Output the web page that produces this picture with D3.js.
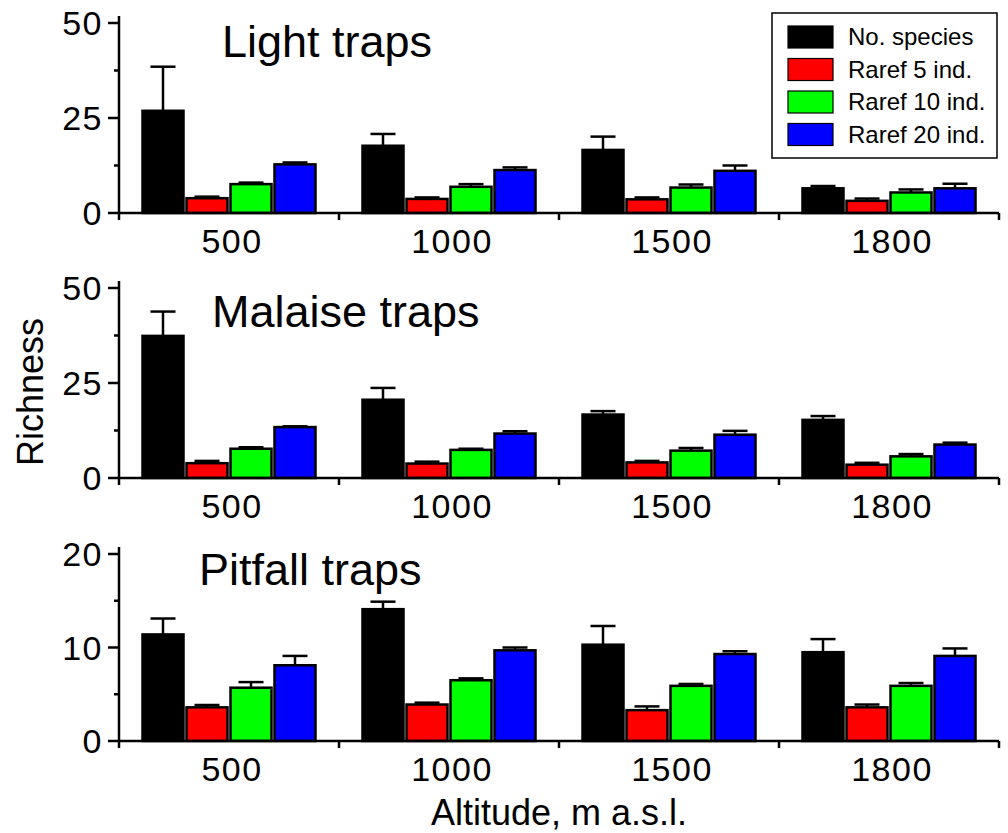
<!DOCTYPE html>
<html>
<head>
<meta charset="utf-8">
<script src="https://cdn.jsdelivr.net/npm/d3@7"></script>
<style>
  body { margin: 0; background: #fff; }
  svg text { font-family: "Liberation Sans", Arial, sans-serif; fill: #000; }
</style>
</head>
<body>
<div id="chart"></div>
<script>
// data
const altitudes = ['500', '1000', '1500', '1800'];
const seriesNames = ['No. species', 'Raref 5 ind.', 'Raref 10 ind.', 'Raref 20 ind.'];
const seriesColors = ['#000000', '#ff0000', '#00ff00', '#0000ff'];

// rows = altitude, columns = series
const lightMeans = [[26.9, 3.9, 7.6, 12.8], [17.7, 3.7, 6.9, 11.3], [16.6, 3.6, 6.7, 11.1], [6.5, 3.2, 5.4, 6.5]];
const lightErrs = [[11.6, 0.4, 0.4, 0.5], [3.1, 0.4, 0.7, 0.7], [3.5, 0.5, 0.8, 1.4], [0.6, 0.6, 0.8, 1.2]];
const malaiseMeans = [[37.4, 3.9, 7.7, 13.4], [20.6, 3.8, 7.4, 11.7], [16.7, 4.1, 7.2, 11.4], [15.3, 3.5, 5.7, 8.8]];
const malaiseErrs = [[6.4, 0.6, 0.4, 0.2], [3.1, 0.5, 0.3, 0.6], [0.9, 0.4, 0.7, 1.0], [1.0, 0.5, 0.6, 0.5]];
const pitfallMeans = [[11.4, 3.6, 5.7, 8.1], [14.1, 3.9, 6.5, 9.7], [10.3, 3.3, 5.9, 9.3], [9.5, 3.6, 5.9, 9.1]];
const pitfallErrs = [[1.7, 0.25, 0.6, 1.0], [0.8, 0.2, 0.2, 0.3], [2.0, 0.4, 0.2, 0.3], [1.4, 0.3, 0.3, 0.8]];

const lightTicks = [0, 25, 50];
const malaiseTicks = [0, 25, 50];
const pitfallTicks = [0, 10, 20];

const width = 1008;
const height = 833;
const left = 119;
const right = 999;

const panels = [
  { title: 'Light traps', means: lightMeans, errs: lightErrs, ticks: lightTicks,
    top: 23, bottom: 213, titleX: 222, titleY: 57 },
  { title: 'Malaise traps', means: malaiseMeans, errs: malaiseErrs, ticks: malaiseTicks,
    top: 288, bottom: 478, titleX: 212, titleY: 327 },
  { title: 'Pitfall traps', means: pitfallMeans, errs: pitfallErrs, ticks: pitfallTicks,
    top: 554, bottom: 741, titleX: 199, titleY: 585 }
];

const svg = d3.select('#chart').append('svg')
  .attr('width', width)
  .attr('height', height);

const x = d3.scaleBand()
  .domain(altitudes)
  .range([left, right])
  .paddingInner(0.2)
  .paddingOuter(0.1);

const xs = d3.scaleBand()
  .domain(seriesNames)
  .range([0, x.bandwidth()]);

const gap = (x.step() - x.bandwidth()) / 2;
const bounds = altitudes.map(a => x(a) - gap).concat([x(altitudes[altitudes.length - 1]) + x.bandwidth() + gap]);

panels.forEach(p => {
  const yMax = d3.max(p.ticks);
  const y = d3.scaleLinear().domain([0, yMax]).range([p.bottom, p.top]);
  const g = svg.append('g');

  // bars
  const groups = g.selectAll('.grp')
    .data(p.means.map((row, i) => ({ alt: altitudes[i], row, err: p.errs[i] })))
    .join('g')
    .attr('class', 'grp')
    .attr('transform', d => `translate(${x(d.alt)},0)`);

  const cells = groups.selectAll('.cell')
    .data(d => d.row.map((v, j) => ({ name: seriesNames[j], v, e: d.err[j], c: seriesColors[j] })))
    .join('g')
    .attr('class', 'cell');

  // error bars (upper only), drawn under the bars
  cells.append('line')
    .attr('x1', d => xs(d.name) + xs.bandwidth() / 2)
    .attr('x2', d => xs(d.name) + xs.bandwidth() / 2)
    .attr('y1', d => y(d.v))
    .attr('y2', d => y(d.v + d.e))
    .attr('stroke', '#000')
    .attr('stroke-width', 2.5);
  cells.append('line')
    .attr('x1', d => xs(d.name) + xs.bandwidth() / 2 - 12.5)
    .attr('x2', d => xs(d.name) + xs.bandwidth() / 2 + 12.5)
    .attr('y1', d => y(d.v + d.e))
    .attr('y2', d => y(d.v + d.e))
    .attr('stroke', '#000')
    .attr('stroke-width', 2.5);

  cells.append('rect')
    .attr('x', d => xs(d.name) + 1.5)
    .attr('width', xs.bandwidth() - 3)
    .attr('y', d => y(d.v))
    .attr('height', d => y(0) - y(d.v))
    .attr('fill', d => d.c)
    .attr('stroke', '#000')
    .attr('stroke-width', 2.5);

  // y axis
  const minor = d3.range(0, p.ticks.length - 1).map(i => (p.ticks[i] + p.ticks[i + 1]) / 2);
  g.append('line')
    .attr('x1', left).attr('x2', left)
    .attr('y1', p.top - 7).attr('y2', p.bottom)
    .attr('stroke', '#000').attr('stroke-width', 2.5);
  g.selectAll('.ymaj')
    .data(p.ticks)
    .join('line')
    .attr('class', 'ymaj')
    .attr('x1', left - 11).attr('x2', left)
    .attr('y1', d => y(d)).attr('y2', d => y(d))
    .attr('stroke', '#000').attr('stroke-width', 2.5);
  g.selectAll('.ymin')
    .data(minor)
    .join('line')
    .attr('class', 'ymin')
    .attr('x1', left - 5).attr('x2', left)
    .attr('y1', d => y(d)).attr('y2', d => y(d))
    .attr('stroke', '#000').attr('stroke-width', 2.5);
  g.selectAll('.ylab')
    .data(p.ticks)
    .join('text')
    .attr('class', 'ylab')
    .attr('x', left - 16)
    .attr('y', d => y(d))
    .attr('dy', '0.36em')
    .attr('text-anchor', 'end')
    .style('font-size', '34px')
    .style('letter-spacing', '1.5px')
    .text(d => d);

  // x axis
  g.append('line')
    .attr('x1', left).attr('x2', right)
    .attr('y1', y(0)).attr('y2', y(0))
    .attr('stroke', '#000').attr('stroke-width', 2.5);
  g.selectAll('.xtick')
    .data(bounds)
    .join('line')
    .attr('class', 'xtick')
    .attr('x1', d => d).attr('x2', d => d)
    .attr('y1', y(0)).attr('y2', y(0) + 7)
    .attr('stroke', '#000').attr('stroke-width', 2.5);
  g.selectAll('.xlab')
    .data(altitudes)
    .join('text')
    .attr('class', 'xlab')
    .attr('x', d => x(d) + x.bandwidth() / 2 + 3)
    .attr('y', y(0) + 40)
    .attr('text-anchor', 'middle')
    .style('font-size', '34px')
    .style('letter-spacing', '1.5px')
    .text(d => d);

  g.append('text')
    .attr('x', p.titleX)
    .attr('y', p.titleY)
    .style('font-size', '45px')
    .text(p.title);
});

// axis titles
svg.append('text')
  .attr('transform', 'translate(43,392) rotate(-90)')
  .attr('text-anchor', 'middle')
  .style('font-size', '36px')
  .text('Richness');

svg.append('text')
  .attr('x', (left + right) / 2)
  .attr('y', 825)
  .attr('text-anchor', 'middle')
  .style('font-size', '36px')
  .text('Altitude, m a.s.l.');

// legend
const legend = svg.append('g').attr('transform', 'translate(772,13)');
legend.append('rect')
  .attr('width', 225).attr('height', 145)
  .attr('fill', '#fff')
  .attr('stroke', '#000').attr('stroke-width', 1.5);
const items = legend.selectAll('.item')
  .data(seriesNames)
  .join('g')
  .attr('class', 'item')
  .attr('transform', (d, i) => `translate(16,${13 + i * 32.5})`);
items.append('rect')
  .attr('width', 45).attr('height', 22)
  .attr('fill', (d, i) => seriesColors[i])
  .attr('stroke', '#000').attr('stroke-width', 1.2);
items.append('text')
  .attr('x', 60)
  .attr('y', 19)
  .style('font-size', '24px')
  .text(d => d);
</script>
</body>
</html>
